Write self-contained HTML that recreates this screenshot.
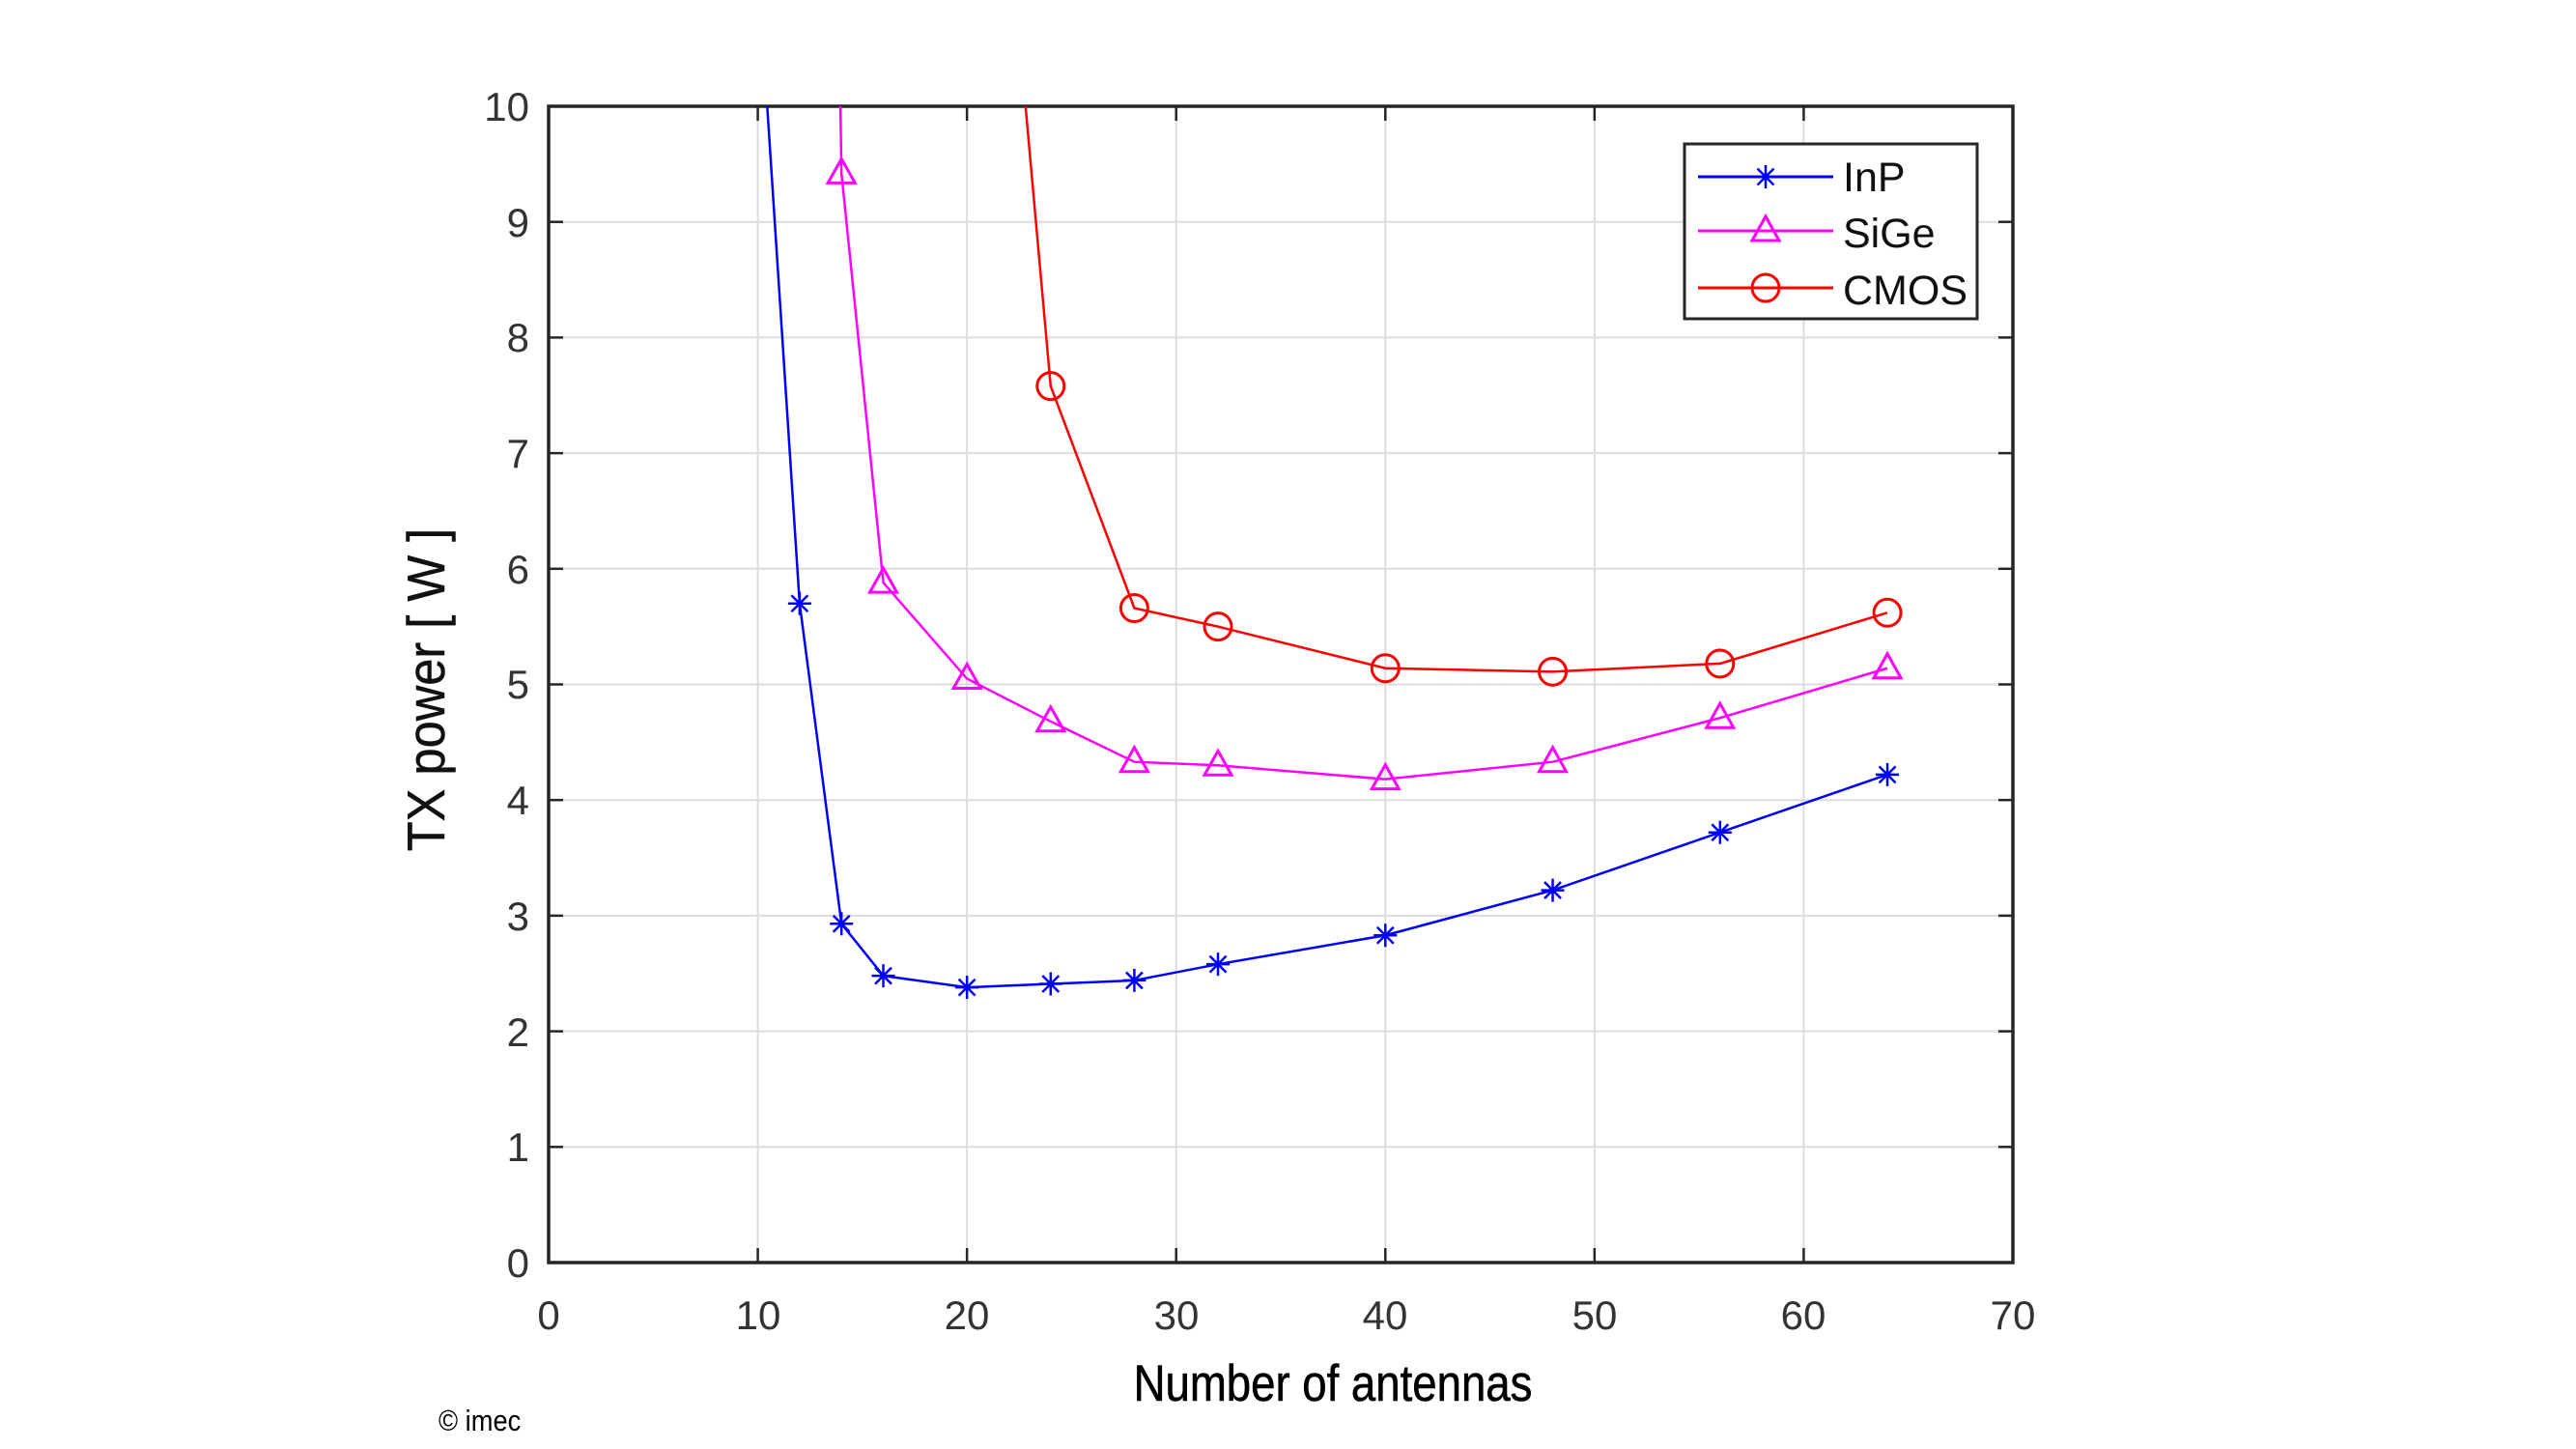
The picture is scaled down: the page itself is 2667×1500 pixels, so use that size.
<!DOCTYPE html>
<html><head><meta charset="utf-8"><style>
html,body{margin:0;padding:0;background:#fff;}
svg{display:block;}
text{font-family:"Liberation Sans",sans-serif;}
</style></head><body>
<svg id="s" width="2667" height="1500" viewBox="0 0 2667 1500" xmlns="http://www.w3.org/2000/svg">
<rect width="2667" height="1500" fill="#fff"/>
<g id="grid" stroke="#dcdcdc" stroke-width="2"></g>
<g id="ticks" stroke="#262626" stroke-width="2.5"></g>
<rect x="568" y="110" width="1516" height="1197" fill="none" stroke="#262626" stroke-width="3.5"/>
<g font-size="42" fill="#333" text-anchor="end">
<text x="548" y="1322">0</text><text x="548" y="1202">1</text><text x="548" y="1083">2</text><text x="548" y="963">3</text><text x="548" y="843">4</text><text x="548" y="723">5</text><text x="548" y="604">6</text><text x="548" y="484">7</text><text x="548" y="364">8</text><text x="548" y="245">9</text><text x="548" y="125">10</text>
</g>
<g font-size="42" fill="#333" text-anchor="middle">
<text x="568" y="1376">0</text><text x="785" y="1376">10</text><text x="1001" y="1376">20</text><text x="1218" y="1376">30</text><text x="1434" y="1376">40</text><text x="1651" y="1376">50</text><text x="1867" y="1376">60</text><text x="2084" y="1376">70</text>
</g>
<text x="1380" y="1450" font-size="53" text-anchor="middle" fill="#000" stroke="#000" stroke-width="0.6" transform="translate(1380 0) scale(0.86 1) translate(-1380 0)">Number of antennas</text>
<text x="0" y="0" font-size="55" text-anchor="middle" fill="#111" stroke="#111" stroke-width="0.5" transform="translate(460 714) rotate(-90) scale(0.92 1)">TX power [ W ]</text>
<text x="454" y="1481" font-size="31" fill="#000" transform="translate(454 0) scale(0.88 1) translate(-454 0)">© imec</text>
<g id="series"></g>
<rect x="1744" y="149" width="303" height="181" fill="#fff" stroke="#262626" stroke-width="3"/>
<g id="leg"></g>
<g font-size="43" fill="#111">
<text x="1908" y="198">InP</text>
<text x="1908" y="256">SiGe</text>
<text x="1908" y="315">CMOS</text>
</g>
</svg>
<script>
var NS="http://www.w3.org/2000/svg";
function X(v){return 568+v*1516/70;}
function Y(v){return 1307-v*119.7;}
function el(p,t,a){var e=document.createElementNS(NS,t);for(var k in a)e.setAttribute(k,a[k]);p.appendChild(e);return e;}
var g=document.getElementById('grid'),tk=document.getElementById('ticks');
for(var i=1;i<7;i++){el(g,'line',{x1:X(i*10),x2:X(i*10),y1:110,y2:1307});}
for(var j=1;j<10;j++){el(g,'line',{x1:568,x2:2084,y1:Y(j),y2:Y(j)});}
for(var i=1;i<7;i++){el(tk,'line',{x1:X(i*10),x2:X(i*10),y1:1307,y2:1292});el(tk,'line',{x1:X(i*10),x2:X(i*10),y1:110,y2:125});}
for(var j=1;j<10;j++){el(tk,'line',{x1:568,x2:583,y1:Y(j),y2:Y(j)});el(tk,'line',{x1:2084,x2:2069,y1:Y(j),y2:Y(j)});}
var S=document.getElementById('series');
function star(p,x,y,c){var r=12;el(p,'path',{d:'M'+x+' '+(y-r)+'V'+(y+r)+'M'+(x-r)+' '+y+'H'+(x+r)+'M'+(x-8.5)+' '+(y-8.5)+'L'+(x+8.5)+' '+(y+8.5)+'M'+(x-8.5)+' '+(y+8.5)+'L'+(x+8.5)+' '+(y-8.5),stroke:c,'stroke-width':2.5,fill:'none'});}
function tri(p,x,y,c){el(p,'path',{d:'M'+x+' '+(y-15)+'L'+(x+14)+' '+(y+10)+'L'+(x-14)+' '+(y+10)+'Z',stroke:c,'stroke-width':3,fill:'none'});}
function circ(p,x,y,c){el(p,'circle',{cx:x,cy:y,r:14,stroke:c,'stroke-width':3,fill:'none'});}
var data=[
 {c:'#0000ff',m:star,start:[10.45,10],pts:[[12,5.7],[14,2.93],[16,2.48],[20,2.38],[24,2.41],[28,2.44],[32,2.58],[40,2.83],[48,3.22],[56,3.72],[64,4.22]]},
 {c:'#ff00ff',m:tri,start:[13.95,10],pts:[[14,9.42],[16,5.88],[20,5.05],[24,4.68],[28,4.33],[32,4.3],[40,4.18],[48,4.33],[56,4.71],[64,5.14]]},
 {c:'#ff0000',m:circ,start:[22.8,10],pts:[[24,7.58],[28,5.66],[32,5.5],[40,5.14],[48,5.11],[56,5.18],[64,5.62]]}
];
data.forEach(function(s){
 var all=[s.start].concat(s.pts);
 el(S,'polyline',{points:all.map(function(p){return X(p[0])+','+Y(p[1]);}).join(' '),stroke:s.c,'stroke-width':2.5,fill:'none'});
 s.pts.forEach(function(p){s.m(S,X(p[0]),Y(p[1]),s.c);});
});
var L=document.getElementById('leg');
var ly=[183,239,298];
data.forEach(function(s,i){el(L,'line',{x1:1758,x2:1898,y1:ly[i],y2:ly[i],stroke:s.c,'stroke-width':3});s.m(L,1828,ly[i],s.c);});
</script>
</body></html>
